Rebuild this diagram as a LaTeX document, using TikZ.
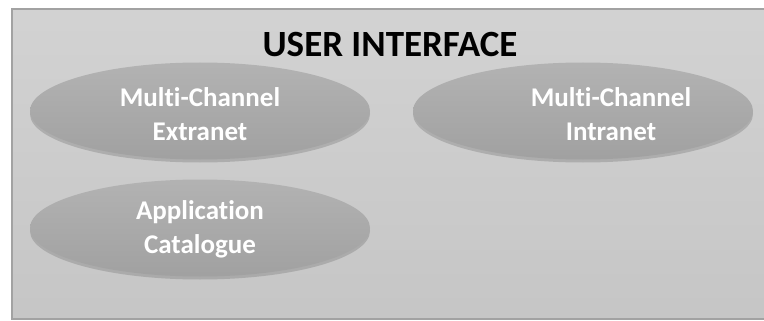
\documentclass[tikz,border=0pt]{standalone}
\usepackage{fontspec}
\setmainfont[Ligatures=NoCommon]{Carlito}
\usetikzlibrary{shapes.geometric,shadows}
\definecolor{panelline}{HTML}{A2A2A2}
\begin{document}
\begin{tikzpicture}[x=1pt,y=-1pt,
    bubble/.style={ellipse,minimum width=340pt,minimum height=97pt,inner sep=0pt,
      top color=gray!60,bottom color=gray!74,
      drop shadow={shadow xshift=0pt,shadow yshift=-3pt,opacity=0.4}},
    bubbletext/.style={align=center,text=white,font=\bfseries\fontsize{27}{34}\selectfont}]
    \clip (0,0) rectangle (764,321);
    \fill[white] (0,0) rectangle (764,321);
    \draw[panelline,line width=2pt,top color=gray!35,bottom color=gray!45] (12,9) rectangle (780,319);
    \node (title) at (390,45) {\bfseries\fontsize{37}{40}\selectfont USER INTERFACE};
    \node (extranet) at (200,111) [bubble] {};
    \node (extranetlbl) at (200,114) [bubbletext] {Multi-Channel\\Extranet};
    \node (intranet) at (583,111) [bubble] {};
    \node (intranetlbl) at (611,114) [bubbletext] {Multi-Channel\\Intranet};
    \node (catalogue) at (200,228) [bubble] {};
    \node (cataloguelbl) at (200,229) [bubbletext] {Application\\Catalogue};
  \end{tikzpicture}
\end{document}
